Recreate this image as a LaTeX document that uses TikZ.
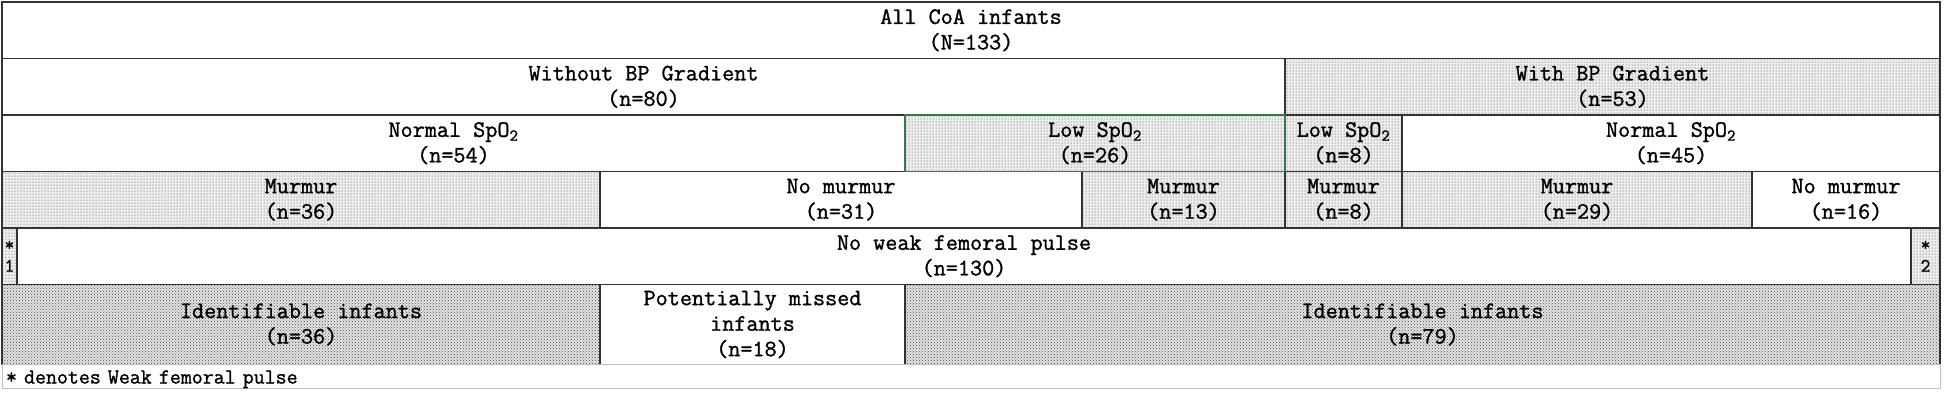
\documentclass[tikz,border=0pt]{standalone}
\usepackage{fontspec}
\usetikzlibrary{positioning,patterns}
\newfontfamily\cellfont{Latin Modern Mono}[FakeBold=1.2]
\definecolor{lowgreen}{RGB}{58,118,78}

\begin{document}
\begin{tikzpicture}[
    x=1pt, y=-1pt,
    cell/.style={draw=black!80, line width=1.3pt, outer sep=0pt, inner sep=0pt,
        minimum height=56.5pt, align=center,
        font=\cellfont\fontsize{23.5}{25.5}\selectfont},
    stip/.style={cell, preaction={fill=gray!14}, pattern=dots, pattern color=black!75},
    dense/.style={cell, preaction={fill=gray!22}, pattern=crosshatch dots, pattern color=black!70},
    star/.style={font=\cellfont\fontsize{19}{21}\selectfont},
    note/.style={draw=black!25, line width=1pt, outer sep=0pt, inner xsep=4pt, inner ysep=0pt,
        minimum height=24pt, text width=1930pt, text height=14pt, text depth=0pt, align=left,
        font=\cellfont\fontsize{21.3}{23}\selectfont},
  ]
  \useasboundingbox[fill=white] (0,0) rectangle (1945,392);

  \node[cell, minimum width=1938pt, anchor=north west] (all) at (2,2) {All CoA infants\\(N=133)};

  \node[cell, below=0pt of all.south west, anchor=north west, minimum width=1283pt] (nograd) {Without BP Gradient\\(n=80)};
  \node[stip, right=0pt of nograd, minimum width=655pt] (grad) {With BP Gradient\\(n=53)};

  \node[cell, below=0pt of nograd.south west, anchor=north west, minimum width=903pt] (normA) {Normal SpO\textsubscript{2}\\(n=54)};
  \node[stip, right=0pt of normA, minimum width=380pt] (lowA) {Low SpO\textsubscript{2}\\(n=26)};
  \node[stip, right=0pt of lowA, minimum width=117pt] (lowB) {Low SpO\textsubscript{2}\\(n=8)};
  \node[cell, right=0pt of lowB, minimum width=538pt] (normB) {Normal SpO\textsubscript{2}\\(n=45)};

  \node[stip, below=0pt of normA.south west, anchor=north west, minimum width=598pt] (murA) {Murmur\\(n=36)};
  \node[cell, right=0pt of murA, minimum width=482pt] (nomurA) {No murmur\\(n=31)};
  \node[stip, right=0pt of nomurA, minimum width=203pt] (murB) {Murmur\\(n=13)};
  \node[stip, right=0pt of murB, minimum width=117pt] (murC) {Murmur\\(n=8)};
  \node[stip, right=0pt of murC, minimum width=350pt] (murD) {Murmur\\(n=29)};
  \node[cell, right=0pt of murD, minimum width=188pt] (nomurB) {No murmur\\(n=16)};

  \node[stip, star, below=0pt of murA.south west, anchor=north west, minimum width=15pt] (weakA) {*\\1};
  \node[cell, right=0pt of weakA, minimum width=1894pt] (noweak) {No weak femoral pulse\\(n=130)};
  \node[stip, star, right=0pt of noweak, minimum width=29pt] (weakB) {*\\2};

  \node[dense, below=0pt of weakA.south west, anchor=north west, minimum width=598pt, minimum height=80pt] (identA) {Identifiable infants\\(n=36)};
  \node[cell, right=0pt of identA, minimum width=305pt, minimum height=80pt] (missed) {Potentially missed\\infants\\(n=18)};
  \node[dense, right=0pt of missed, minimum width=1035pt, minimum height=80pt] (identB) {Identifiable infants\\(n=79)};

  \node[note, below=0pt of identA.south west, anchor=north west] (key) {* denotes Weak femoral pulse};

  \draw[lowgreen, line width=1.3pt] (lowA.north west) rectangle (lowA.south east);
\end{tikzpicture}
\end{document}
